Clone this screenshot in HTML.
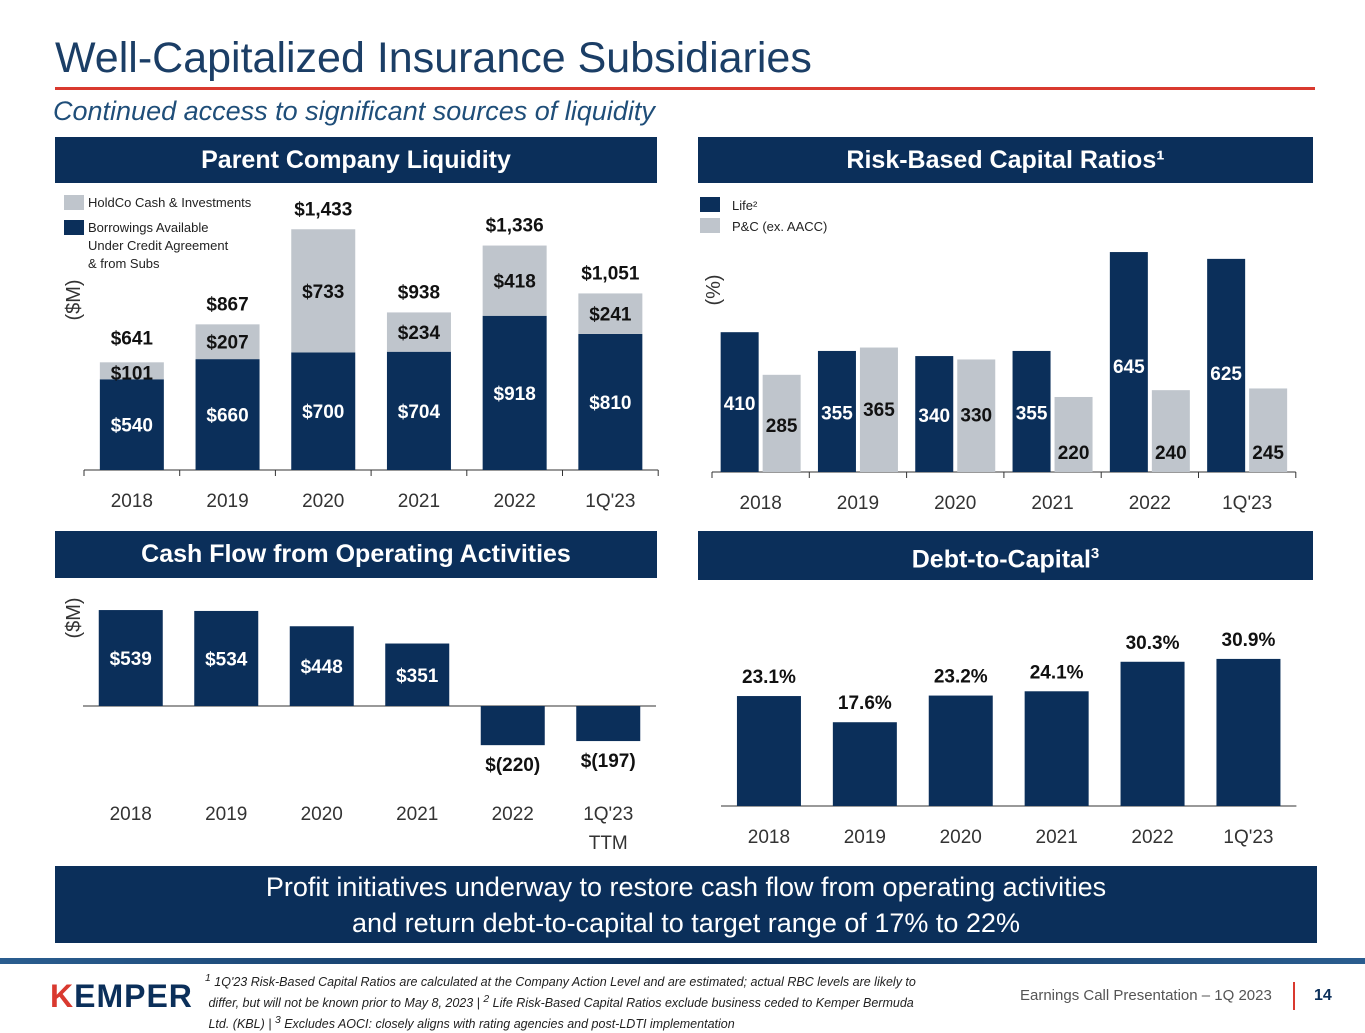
<!DOCTYPE html>
<html><head><meta charset="utf-8"><style>
body{margin:0;width:1365px;height:1024px;background:#fff;position:relative;overflow:hidden;font-family:"Liberation Sans",sans-serif}
.hdr{position:absolute;background:#0b2f5a;color:#fff;font-weight:bold;font-size:25px;text-align:center}
svg text{font-family:"Liberation Sans",sans-serif}
</style></head><body>
<div style="position:absolute;left:55px;top:34px;font-size:43px;color:#1b3e66">Well-Capitalized Insurance Subsidiaries</div>
<div style="position:absolute;left:55px;top:87px;width:1260px;height:3px;background:#d9392f"></div>
<div style="position:absolute;left:53px;top:96px;font-size:27px;font-style:italic;color:#1f4e79">Continued access to significant sources of liquidity</div>
<div class="hdr" style="left:55px;top:137px;width:602px;height:46px;line-height:46px">Parent Company Liquidity</div>
<div class="hdr" style="left:698px;top:137px;width:615px;height:46px;line-height:46px">Risk-Based Capital Ratios¹</div>
<div class="hdr" style="left:55px;top:531px;width:602px;height:47px;line-height:47px">Cash Flow from Operating Activities</div>
<div class="hdr" style="left:698px;top:531px;width:615px;height:49px;line-height:46px">Debt-to-Capital<sup style="font-size:15px">3</sup></div>
<div class="hdr" style="left:55px;top:866px;width:1262px;height:77px;font-weight:normal;font-size:27px;line-height:36px;padding-top:3px;box-sizing:border-box">Profit initiatives underway to restore cash flow from operating activities<br>and return debt-to-capital to target range of 17% to 22%</div>
<div style="position:absolute;left:0;top:958px;width:1365px;height:6px;background:linear-gradient(90deg,#2a5d8f,#0b2f5a,#2a5d8f)"></div>
<div style="position:absolute;left:50px;top:978px;font-size:32px;font-weight:bold;color:#0b2f5a;letter-spacing:1px"><span style="color:#d9392f">K</span>EMPER</div>
<div style="position:absolute;left:205px;top:970px;width:800px;font-size:12.5px;font-style:italic;line-height:18px;color:#222"><sup>1</sup> 1Q'23 Risk-Based Capital Ratios are calculated at the Company Action Level and are estimated; actual RBC levels are likely to<br>&nbsp;differ, but will not be known prior to May 8, 2023 | <sup>2</sup> Life Risk-Based Capital Ratios exclude business ceded to Kemper Bermuda<br>&nbsp;Ltd. (KBL) | <sup>3</sup> Excludes AOCI: closely aligns with rating agencies and post-LDTI implementation</div>
<div style="position:absolute;left:1020px;top:987px;font-size:15px;color:#555">Earnings Call Presentation – 1Q 2023</div>
<div style="position:absolute;left:1293px;top:982px;width:2px;height:28px;background:#d9392f"></div>
<div style="position:absolute;left:1314px;top:987px;font-size:16px;font-weight:bold;color:#0b2f5a">14</div>
<svg id="chart" width="1365" height="1024" style="position:absolute;left:0;top:0"></svg>
<script>
const years=["2018","2019","2020","2021","2022","1Q'23"];
const borrowings=[540,660,700,704,918,810];
const holdco=[101,207,733,234,418,241];
const totals=["$641","$867","$1,433","$938","$1,336","$1,051"];
const rbcLife=[410,355,340,355,645,625];
const rbcPC=[285,365,330,220,240,245];
const cashFlow=[539,534,448,351,-220,-197];
const cashLabels=["2018","2019","2020","2021","2022","1Q'23"];
const debtCap=[23.1,17.6,23.2,24.1,30.3,30.9];
const NAVY="#0b2f5a",GRAY="#bfc5cc";
const svg=document.getElementById('chart');
function el(t,a,txt){const e=document.createElementNS("http://www.w3.org/2000/svg",t);for(const k in a)e.setAttribute(k,a[k]);if(txt!==undefined)e.textContent=txt;svg.appendChild(e);return e;}
function fmt(v){return v<0?"$("+(-v)+")":"$"+v;}
function axis(x0,x1,y,n,nameP){const a=el('line',{x1:x0,x2:x1,y1:y,y2:y,stroke:'#333','stroke-width':1});

const step=(x1-x0)/n;for(let i=0;i<=n;i++){const t=el('line',{x1:x0+i*step,x2:x0+i*step,y1:y,y2:y+6,stroke:'#333'});}}
function label(x,y,s,fill,size,bold,name){const t=el('text',{x:x,y:y,'text-anchor':'middle',fill:fill,'font-size':size,'font-weight':bold?'bold':'normal'},s);return t;}
// Chart 1: parent liquidity
(function(){const base=470,k=0.168,x0=84,step=95.7,w=64;axis(x0,x0+step*6,base,6,'liquidity');
years.forEach((y,i)=>{const cx=x0+step*(i+0.5);const hb=borrowings[i]*k,hh=holdco[i]*k;
const r1=el('rect',{x:cx-w/2,y:base-hb,width:w,height:hb,fill:NAVY});
const r2=el('rect',{x:cx-w/2,y:base-hb-hh,width:w,height:hh,fill:GRAY});
label(cx,base-hb/2+7,"$"+borrowings[i],'#fff',19,true,'borrowings-value');
label(cx,i==0?base-hb-hh+17:base-hb-hh/2+7,"$"+holdco[i],'#111',19,true,'holdco-value');
label(cx,base-hb-hh-(i==0?18:14),totals[i],'#111',19,true,'total-value');
label(cx,base+37,y,'#333',19,false,'year-label');});
const yt=label(0,0,"($M)",'#333',20,false,'liquidity-y-title');yt.setAttribute('transform','translate(80,300) rotate(-90)');
})();
// Chart 2: RBC
(function(){const base=472,k=0.341,x0=712,step=97.3,w=38;axis(x0,x0+step*6,base,6,'rbc');
years.forEach((y,i)=>{const cx=x0+step*(i+0.5);const hl=rbcLife[i]*k,hp=rbcPC[i]*k;
const r1=el('rect',{x:cx-w-2,y:base-hl,width:w,height:hl,fill:NAVY});
const r2=el('rect',{x:cx+2,y:base-hp,width:w,height:hp,fill:GRAY});
label(cx-w/2-2,rbcLife[i]>500?base-hl+121:base-hl/2+8,rbcLife[i],'#fff',19,true,'rbc-life-value');
label(cx+w/2+2,rbcPC[i]<260?base-13:(rbcPC[i]>300?base-hp/2+6:base-40),rbcPC[i],'#111',19,true,'rbc-pc-value');
label(cx,base+37,y,'#333',19,false,'year-label');});
const yt=label(0,0,"(%)",'#333',20,false,'rbc-y-title');yt.setAttribute('transform','translate(720,290) rotate(-90)');
})();
// Chart 3: cash flow
(function(){const base=706,k=0.178,x0=83,step=95.5,w=64;const a=el('line',{x1:x0,x2:x0+step*6,y1:base,y2:base,stroke:'#333'});
cashFlow.forEach((v,i)=>{const cx=x0+step*(i+0.5);const h=Math.abs(v)*k;
const r=el('rect',{x:cx-w/2,y:v>=0?base-h:base,width:w,height:h,fill:NAVY});
if(v>=0)label(cx,base-h/2+7,fmt(v),'#fff',19,true,'cashflow-value');else label(cx,base+h+26,fmt(v),'#111',19,true,'cashflow-value');
label(cx,820,cashLabels[i],'#333',19,false,'year-label');});
label(x0+step*5.5,849,"TTM",'#333',19,false,'ttm-label');
const yt=label(0,0,"($M)",'#333',20,false,'cashflow-y-title');yt.setAttribute('transform','translate(80,618) rotate(-90)');
})();
// Chart 4: debt to capital
(function(){const base=806,k=4.76,x0=721,step=95.9,w=64;const a=el('line',{x1:x0,x2:x0+step*6,y1:base,y2:base,stroke:'#333'});
debtCap.forEach((v,i)=>{const cx=x0+step*(i+0.5);const h=v*k;
const r=el('rect',{x:cx-w/2,y:base-h,width:w,height:h,fill:NAVY});
label(cx,base-h-13,v.toFixed(1)+"%",'#111',19,true,'debt-value');
label(cx,843,years[i],'#333',19,false,'year-label');});
})();
// legends
function leg(x,y,c,name){const r=el('rect',{x:x,y:y,width:20,height:15,fill:c});}
leg(64,195,GRAY,'legend-holdco');leg(64,220,NAVY,'legend-borrowings');
leg(700,197,NAVY,'legend-life');leg(700,218,GRAY,'legend-pc');
[["HoldCo Cash & Investments",88,207],["Borrowings Available",88,232],["Under Credit Agreement",88,250],["& from Subs",88,268]].forEach(a=>{const t=el('text',{x:a[1],y:a[2],'font-size':13,fill:'#222'},a[0]);});
const l1=el('text',{x:732,y:210,'font-size':13,fill:'#222'},"Life²");
const l2=el('text',{x:732,y:231,'font-size':13,fill:'#222'},"P&C (ex. AACC)");
</script>
</body></html>
